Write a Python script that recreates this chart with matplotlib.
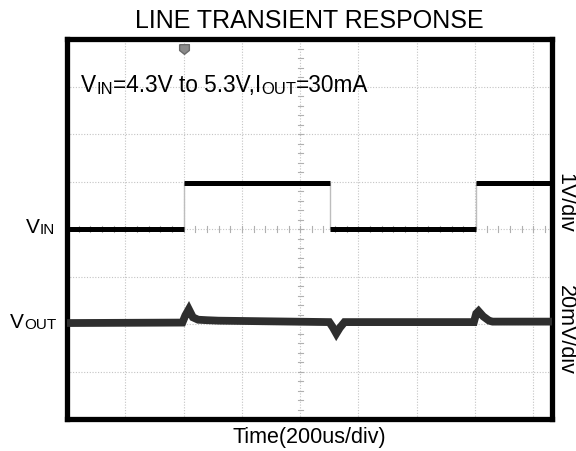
import numpy as np
import matplotlib.pyplot as plt
from matplotlib.path import Path

plt.rcParams['font.family'] = ['Liberation Sans', 'DejaVu Sans']

# time in divisions (200us/div), screen units in divisions
vin_t = [0.0, 2.0, 2.0, 4.51, 4.51, 7.02, 7.02, 8.34]
vin_v = [4.0, 4.0, 4.96, 4.96, 4.0, 4.0, 4.96, 4.96]

vout_t = [0.0, 1.98, 2.03, 2.09, 2.16, 2.25, 2.4, 2.6, 4.5, 4.56, 4.62, 4.68, 4.76, 6.98,
          7.02, 7.06, 7.14, 7.24, 7.3, 8.34]
vout_v = [2.02, 2.03, 2.18, 2.31, 2.14, 2.09, 2.08, 2.07, 2.04, 1.93, 1.8, 1.92, 2.04, 2.04,
          2.22, 2.27, 2.16, 2.07, 2.05, 2.05]

title = 'LINE TRANSIENT RESPONSE'
xlabel = 'Time(200us/div)'

fig = plt.figure(figsize=(5.76, 4.51), dpi=100)
ax = fig.add_axes([67 / 576, 32 / 451, 485 / 576, 380 / 451])
ax.set_xlim(0, 8.32)
ax.set_ylim(0, 8)

# graticule
for gx in range(1, 9):
    ax.axvline(gx, color='#c4c4c4', lw=0.8, ls=(0, (1, 1.5)), zorder=1)
for gy in range(1, 8):
    ax.axhline(gy, color='#c4c4c4', lw=0.8, ls=(0, (1, 1.5)), zorder=1)
for tx in np.arange(0.2, 8.3, 0.2):
    ax.plot([tx, tx], [3.93, 4.07], color='#b0b0b0', lw=0.8, zorder=1)
for ty in np.arange(0.2, 8, 0.2):
    ax.plot([3.96, 4.04], [ty, ty], color='#b0b0b0', lw=0.8, zorder=1)

# thin transition edges, then thick levels
ax.plot(vin_t, vin_v, color='#bdbdbd', lw=1.0, zorder=2)
for i in range(0, len(vin_t), 2):
    ax.plot(vin_t[i:i + 2], vin_v[i:i + 2], color='black', lw=3.6,
            solid_capstyle='butt', zorder=3)
ax.plot(vout_t, vout_v, color='#2e2e2e', lw=5.6, solid_joinstyle='miter', zorder=3)

# trigger marker
trig = Path([(-1, 1), (1, 1), (1, -0.2), (0, -1), (-1, -0.2), (-1, 1)])
ax.plot([vin_t[1]], [7.8], marker=trig, ms=7, color='#8a8a8a', mec='#6a6a6a', zorder=4)

for s in ax.spines.values():
    s.set_linewidth(3.8)
ax.set_xticks([])
ax.set_yticks([])


def rich(xy, parts, coords, **kw):
    prev = None
    for txt, size in parts:
        if prev is None:
            prev = ax.annotate(txt, xy=xy, xycoords=coords, fontsize=size,
                               va='baseline', ha='left', annotation_clip=False, **kw)
        else:
            prev = ax.annotate(txt, xy=(1, 0), xycoords=prev, fontsize=size,
                               va='bottom', ha='left', annotation_clip=False, **kw)
    return prev


rich((81, 451 - 92), [('V', 16.3), ('IN', 12), ('=4.3V to 5.3V,I', 16.3), ('OUT', 12),
                      ('=30mA', 16.3)], 'figure pixels')
rich((26, 451 - 233), [('V', 15), ('IN', 11)], 'figure pixels')
rich((10, 451 - 328), [('V', 15), ('OUT', 11)], 'figure pixels')

fig.text(309 / 576, 1 - 21 / 451, title, fontsize=18, ha='center', va='center')
fig.text(309 / 576, 1 - 438 / 451, xlabel, fontsize=15.5, ha='center', va='center')
fig.text(565 / 576, 1 - 203 / 451, '1V/div', fontsize=15.5, rotation=270,
         ha='center', va='center')
fig.text(565 / 576, 1 - 330 / 451, '20mV/div', fontsize=15.5, rotation=270,
         ha='center', va='center')

fig.savefig('out.png', dpi=100)
